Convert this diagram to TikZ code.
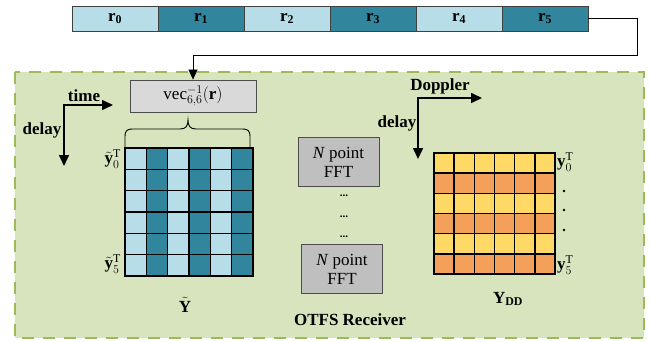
\documentclass[tikz,border=0pt]{standalone}
\usepackage{fontspec}
\setmainfont{Liberation Serif}
\usetikzlibrary{arrows.meta}
\definecolor{lb}{HTML}{B7DEE8}
\definecolor{tb}{HTML}{31859C}
\definecolor{yl}{HTML}{FFD966}
\definecolor{og}{HTML}{F5A05A}
\definecolor{gf}{HTML}{D7E4BD}
\definecolor{gd}{HTML}{9BBB59}
\definecolor{gv}{HTML}{D9D9D9}
\definecolor{gfft}{HTML}{BFBFBF}
\tikzset{
  big/.style={font=\fontsize{17}{19}\selectfont},
  rcell/.style={big, draw=black!75, line width=0.8pt, minimum width=86pt, minimum height=25pt, inner sep=0pt},
  vecbox/.style={big, draw=black!70, line width=0.8pt, fill=gv, minimum width=126pt, minimum height=32pt, inner sep=0pt},
  fftbox/.style={big, draw=black!70, line width=0.8pt, fill=gfft, minimum width=81pt, minimum height=49pt, inner sep=0pt, align=center},
  conn/.style={line width=0.8pt, -{Triangle[length=10pt,width=9pt]}},
  axisarrow/.style={line width=1.6pt, {Triangle[length=11pt,width=10pt]}-{Triangle[length=11pt,width=10pt]}},
  gridline/.style={draw=black, line width=1.6pt, line cap=rect},
  lbl/.style={big, inner sep=0pt},
  boldlbl/.style={lbl, font=\fontsize{17}{19}\selectfont\bfseries},
  dotsnode/.style={font=\fontsize{11}{12}\selectfont\bfseries, inner sep=0pt}
}
\begin{document}
\begin{tikzpicture}[x=1pt,y=-1pt]
\useasboundingbox (0,0) rectangle (650,342);
% receiver frame
\draw[gd, fill=gf, line width=2.5pt, dash pattern=on 12pt off 9pt] (15,72) rectangle (644,338);
% received samples
\foreach \i/\cl in {0/lb,1/tb,2/lb,3/tb,4/lb,5/tb}
  \node[rcell, fill=\cl] (r\i) at ({115+86*\i},18.5) {$\mathbf{r}_{\mathbf{\i}}$};
% vec^{-1} box
\node[vecbox] (vec) at (193,96) {$\mathrm{vec}^{-1}_{6,6}(\mathbf{r})$};
\coordinate (c1) at (637,55);
\draw[conn] (r5.east) -| (c1) -| (vec.north);
% brace
\draw[line width=0.9pt] (125,147) -- (125,137) .. controls (125,130) and (127,129) .. (134,129) -- (180,129) .. controls (186,129) and (188,126) .. (188,120) .. controls (188,126) and (190,129) .. (196,129) -- (241,129) .. controls (248,129) and (250,130) .. (250,137) -- (250,147);
% Y tilde grid
\foreach \ci in {0,...,5}{
  \ifodd\ci\def\cc{tb}\else\def\cc{lb}\fi
  \fill[\cc] ({125+\ci*21.333},148) rectangle ++(21.333,128);
}
\foreach \k in {0,...,6}{
  \draw[gridline] ({125+\k*21.333},148) -- ({125+\k*21.333},276);
  \draw[gridline] (125,{148+\k*21.333}) -- (253,{148+\k*21.333});
}
\node[lbl, anchor=east] (yt0) at (121,159) {$\tilde{\mathbf{y}}_0^{\mathrm{T}}$};
\node[lbl, anchor=east] (yt5) at (121,264) {$\tilde{\mathbf{y}}_5^{\mathrm{T}}$};
\node[lbl] (Yt) at (185,305) {$\tilde{\mathbf{Y}}$};
% time / delay axes
\coordinate (o1) at (64,105);
\coordinate (t1) at (113,105);
\coordinate (d1) at (64,166);
\draw[axisarrow] (t1) -- (o1) -- (d1);
\node[boldlbl] (time) at (84,96) {time};
\node[boldlbl] (delay1) at (42,130) {delay};
% FFT boxes
\node[fftbox] (fft1) at (338.5,162) {\textit{N} point\\FFT};
\node[fftbox] (fft2) at (342,269) {\textit{N} point\\FFT};
\node[dotsnode] (dt1) at (344,196) {...};
\node[dotsnode] (dt2) at (344,217) {...};
\node[dotsnode] (dt3) at (344,237) {...};
% Doppler / delay axes
\coordinate (o2) at (418,98);
\coordinate (t2) at (482,98);
\coordinate (d2) at (418,159);
\draw[axisarrow] (t2) -- (o2) -- (d2);
\node[boldlbl] (dop) at (440,86) {Doppler};
\node[boldlbl] (delay2) at (397,123) {delay};
% Y_DD grid
\foreach \ri in {0,...,5}{
  \ifodd\ri\def\cc{og}\else\def\cc{yl}\fi
  \fill[\cc] (434,{153+\ri*20.17}) rectangle ++(121,20.17);
}
\foreach \k in {0,...,6}{
  \draw[gridline] ({434+\k*20.17},153) -- ({434+\k*20.17},274);
  \draw[gridline] (434,{153+\k*20.17}) -- (555,{153+\k*20.17});
}
\node[lbl, anchor=west] (y0) at (557,162) {$\mathbf{y}_0^{\mathrm{T}}$};
\node[lbl, anchor=west] (y5) at (557,265) {$\mathbf{y}_5^{\mathrm{T}}$};
\fill (564,191) circle (1.3);
\fill (564,210) circle (1.3);
\fill (564,230) circle (1.3);
\node[lbl] (Ydd) at (508,299) {$\mathbf{Y}_{\mathbf{DD}}$};
\node[boldlbl] (otfs) at (350,320) {OTFS Receiver};
\end{tikzpicture}
\end{document}
